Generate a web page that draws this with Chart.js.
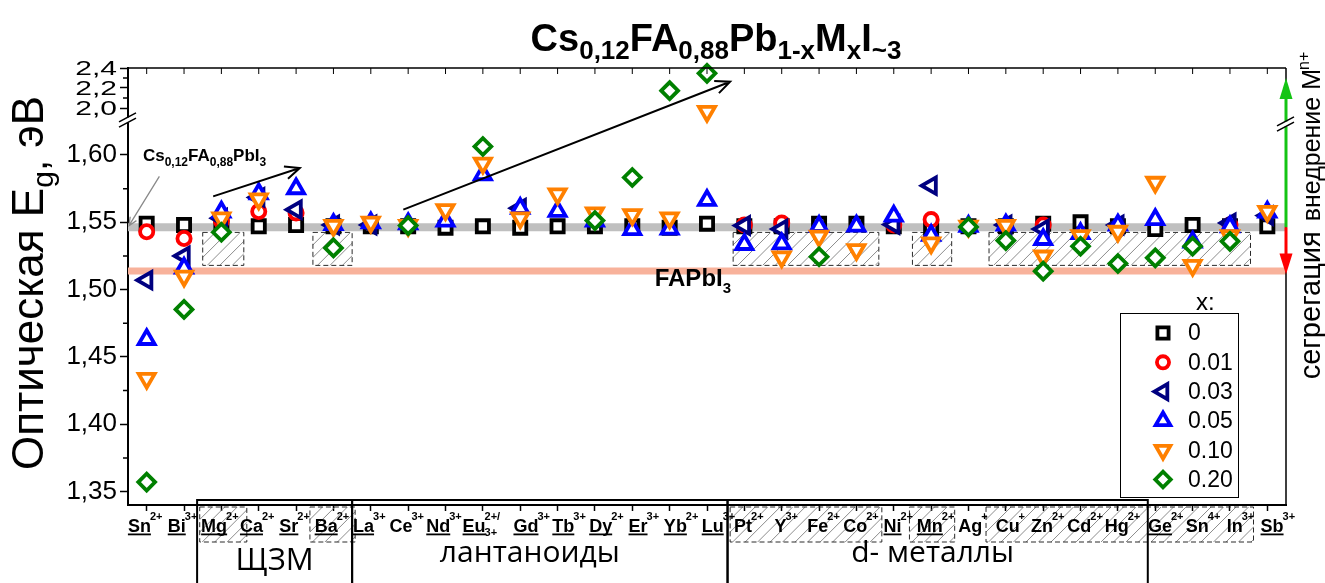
<!DOCTYPE html>
<html>
<head>
<meta charset="utf-8">
<script src="https://cdn.jsdelivr.net/npm/chart.js@4/dist/chart.umd.min.js"></script>
<style>
  html, body { margin: 0; padding: 0; background: #ffffff; }
  #wrap { width: 1325px; height: 583px; position: relative; }
</style>
</head>
<body>
<div id="wrap"><canvas id="chart" width="1325" height="583"></canvas></div>
<script>
// ---- Dopant cations (x axis) ----
const symbols = ['Sn','Bi','Mg','Ca','Sr','Ba','La','Ce','Nd','Eu','Gd','Tb','Dy','Er','Yb','Lu',
                 'Pt','Y','Fe','Co','Ni','Mn','Ag','Cu','Zn','Cd','Hg','Ge','Sn','In','Sb'];
const charges = ['2+','3+','2+','2+','2+','2+','3+','3+','3+','2+/','3+','3+','2+','3+','2+','3+',
                 '2+','3+','2+','2+','2+','2+','+','+','2+','2+','2+','2+','4+','3+','3+'];
const subCharges = ['','','','','','','','','','3+','','','','','','',
                    '','','','','','','','','','','','','','',''];
const underlined = [1,1,1,1,1,1,1,0,1,1,1,1,1,1,1,1, 0,0,0,0,1,1,0,0,0,0,0,1,0,0,1];
const categories = symbols.map((s, i) => s + charges[i] + subCharges[i]);

// ---- Optical band gap Eg (eV) for each dopant fraction x ----
const eg_x0 = [1.549,1.548,1.549,1.547,1.548,1.547,1.547,1.547,1.546,1.547,1.546,1.547,1.547,1.547,1.546,1.549,
               1.547,1.547,1.549,1.549,1.547,1.546,1.547,1.547,1.549,1.550,1.547,1.545,1.548,1.547,1.547];
const eg_x001 = [1.543,1.538,1.551,1.558,1.557,null,null,null,null,null,null,null,null,null,null,null,
                 1.548,1.5495,null,null,1.548,1.552,null,null,1.548,null,null,null,null,1.548,null];
const eg_x003 = [1.507,1.525,1.553,1.5685,1.5594,1.548,1.548,null,null,null,1.5605,null,null,null,null,null,
                 1.5476,1.545,null,null,1.5483,1.5772,null,1.548,1.545,null,1.548,null,null,1.5495,1.555];
const eg_x005 = [1.463,1.516,1.5577,1.5713,1.575,1.5484,1.5496,1.549,1.551,1.5854,1.5604,1.5582,1.551,1.5447,1.545,1.5663,
                 1.5336,1.534,1.547,1.5473,1.5546,1.5404,1.547,1.548,1.5373,1.5416,1.548,1.5521,1.5354,1.5467,1.5576];
const eg_x010 = [1.434,1.510,1.5532,1.5673,null,1.5476,1.550,1.5476,1.5593,1.5939,1.5532,1.571,1.5569,1.5556,1.5532,1.965,
                 null,1.5242,1.5396,1.5297,null,1.5347,1.547,1.5476,1.5249,1.540,1.5433,1.5797,1.518,1.540,1.5581];
const eg_x020 = [1.357,1.4853,1.5426,null,null,1.531,null,1.5476,null,1.6063,null,null,1.5513,1.5833,2.173,2.347,
                 null,null,1.5244,null,null,null,1.5466,1.5364,1.5137,1.5322,1.5194,1.5236,1.5322,1.5359,null];

const seriesLabels = ['0','0.01','0.03','0.05','0.10','0.20'];
const seriesValues = [eg_x0, eg_x001, eg_x003, eg_x005, eg_x010, eg_x020];

// ---- Reference band gaps ----
const refCsFA = 1.5463;     // Cs0,12FA0,88PbI3
const refFAPbI3 = 1.5138;   // FAPbI3

// ---- Broken value axis ----
const lowerRange = [1.34, 1.626];
const upperRange = [1.88, 2.4];
const lowerTicks = [1.35, 1.40, 1.45, 1.50, 1.55, 1.60];
const lowerMinorTicks = [1.375, 1.425, 1.475, 1.525, 1.575];
const upperTicks = [2.0, 2.2, 2.4];
const upperMinorTicks = [2.1, 2.3];

// ---- Groups of cations ----
const hatchSpans = [[1.5, 2.6], [4.45, 5.5], [15.7, 19.6], [20.5, 21.55], [22.55, 29.55]];
const hatchBand = [1.518, 1.5425];
const groups = [
  { name: 'ЩЗМ', from: 1.35, to: 5.5 },
  { name: 'лантаноиды', from: 5.5, to: 15.55 },
  { name: 'd- металлы', from: 15.55, to: 26.8 }
];

// ---- Styling ----
const SANS = "'Liberation Sans', Arial, Helvetica, sans-serif";
const GROUP_FONT = "'Open Sans', 'Noto Sans', sans-serif";
const MARK_LW = 3.8;
const looks = [
  { color: '#000000', style: 'rect',     rot: 0,   r: 8.6 },
  { color: '#ff0000', style: 'circle',   rot: 0,   r: 6.6 },
  { color: '#000080', style: 'triangle', rot: -90, r: 9.4 },
  { color: '#0000ff', style: 'triangle', rot: 0,   r: 9.2 },
  { color: '#ff8000', style: 'triangle', rot: 180, r: 9.2 },
  { color: '#008000', style: 'rectRot',  rot: 0,   r: 8.4 }
];
// horizontal nudge of the cation captions, by first index of a run
const captionNudge = [[0, -1], [10, 12], [16, 5], [27, 11]];
const BREAK_AT = 1.8; // values above this sit on the upper (compressed) segment

// Build datasets: each series is split between the lower and the upper value segment
const datasets = [];
seriesValues.forEach((vals, k) => {
  const look = looks[k];
  [['yLow', v => v <= BREAK_AT], ['yHigh', v => v > BREAK_AT]].forEach(([axis, test]) => {
    const data = vals.map(v => (v !== null && test(v)) ? v : null);
    if (!data.some(v => v !== null)) return;
    datasets.push({
      label: seriesLabels[k],
      data,
      yAxisID: axis,
      showLine: false,
      clip: false,
      order: seriesValues.length - k,
      pointStyle: look.style,
      pointRotation: look.rot,
      pointRadius: look.r,
      pointHoverRadius: look.r,
      pointBorderWidth: MARK_LW,
      pointHoverBorderWidth: MARK_LW,
      pointBorderColor: look.color,
      pointBackgroundColor: '#ffffff',
      borderColor: look.color,
      backgroundColor: '#ffffff'
    });
  });
});

// ---- drawing helpers ----
function font(size, bold, family) {
  return (bold ? 'bold ' : '') + size + 'px ' + (family || SANS);
}
function richText(ctx, parts, x, y, align) {
  let w = 0;
  parts.forEach(p => { ctx.font = font(p.size, p.bold, p.family); p.w = ctx.measureText(p.t).width + (p.dx || 0); w += p.w; });
  let cx = align === 'center' ? x - w / 2 : (align === 'right' ? x - w : x);
  ctx.textAlign = 'left';
  ctx.textBaseline = 'alphabetic';
  parts.forEach(p => {
    ctx.font = font(p.size, p.bold, p.family);
    ctx.fillText(p.t, cx + (p.dx || 0), y + (p.dy || 0));
    cx += p.w;
  });
  return w;
}
function hatchBox(ctx, x0, y0, x1, y1) {
  ctx.save();
  ctx.beginPath();
  ctx.rect(x0, y0, x1 - x0, y1 - y0);
  ctx.clip();
  ctx.strokeStyle = '#777777';
  ctx.lineWidth = 0.85;
  const h = y1 - y0;
  ctx.beginPath();
  for (let k = x0 - h; k < x1 + h; k += 12.5) {
    ctx.moveTo(k, y1);
    ctx.lineTo(k + h, y0);
  }
  ctx.stroke();
  ctx.restore();
  ctx.save();
  ctx.strokeStyle = '#2a2a2a';
  ctx.lineWidth = 1;
  ctx.setLineDash([5, 3]);
  ctx.strokeRect(x0, y0, x1 - x0, y1 - y0);
  ctx.restore();
}
function openArrow(ctx, x0, y0, x1, y1, color, lw, head) {
  ctx.save();
  ctx.strokeStyle = color;
  ctx.lineWidth = lw;
  ctx.beginPath();
  ctx.moveTo(x0, y0);
  ctx.lineTo(x1, y1);
  const a = Math.atan2(y1 - y0, x1 - x0);
  ctx.moveTo(x1 - head * Math.cos(a - 0.42), y1 - head * Math.sin(a - 0.42));
  ctx.lineTo(x1, y1);
  ctx.lineTo(x1 - head * Math.cos(a + 0.42), y1 - head * Math.sin(a + 0.42));
  ctx.stroke();
  ctx.restore();
}
function solidArrow(ctx, x, yFrom, yTo, color) {
  const dir = Math.sign(yTo - yFrom);
  ctx.save();
  ctx.strokeStyle = color;
  ctx.fillStyle = color;
  ctx.lineWidth = 3;
  ctx.beginPath();
  ctx.moveTo(x, yFrom);
  ctx.lineTo(x, yTo - dir * 18);
  ctx.stroke();
  ctx.beginPath();
  ctx.moveTo(x, yTo);
  ctx.lineTo(x - 6.5, yTo - dir * 21);
  ctx.lineTo(x + 6.5, yTo - dir * 21);
  ctx.closePath();
  ctx.fill();
  ctx.restore();
}
function breakMark(ctx, x, y) {
  ctx.save();
  ctx.fillStyle = '#ffffff';
  ctx.fillRect(x - 3, y - 2.5, 6, 5);
  ctx.strokeStyle = '#000000';
  ctx.lineWidth = 1.6;
  ctx.beginPath();
  [-2.6, 2.6].forEach(d => {
    ctx.moveTo(x - 9, y + 4.5 + d);
    ctx.lineTo(x + 8, y - 4.5 + d);
  });
  ctx.stroke();
  ctx.restore();
}
function marker(ctx, look, x, y, scale) {
  ctx.save();
  ctx.strokeStyle = look.color;
  ctx.fillStyle = '#ffffff';
  ctx.lineWidth = MARK_LW;
  if (Chart.helpers && Chart.helpers.drawPoint) {
    Chart.helpers.drawPoint(ctx, { pointStyle: look.style, rotation: look.rot, radius: look.r * scale, borderWidth: MARK_LW }, x, y);
  }
  ctx.restore();
}
function nudgeFor(i) {
  let n = 0;
  captionNudge.forEach(([from, d]) => { if (i >= from) n = d; });
  return n;
}

const titleParts = [['Cs', 0], ['0,12', 1], ['FA', 0], ['0,88', 1], ['Pb', 0], ['1-x', 1], ['M', 0], ['x', 1], ['I', 0], ['~3', 1]];
const hostParts = [['Cs', 0], ['0,12', 1], ['FA', 0], ['0,88', 1], ['PbI', 0], ['3', 1]];

const decor = {
  id: 'decor',
  beforeDatasetsDraw(chart) {
    const { ctx, chartArea: ca, scales: { x, yLow } } = chart;
    hatchSpans.forEach(([a, b]) => {
      hatchBox(ctx, x.getPixelForValue(a), yLow.getPixelForValue(hatchBand[1]),
               x.getPixelForValue(b), yLow.getPixelForValue(hatchBand[0]));
    });
    ctx.save();
    ctx.lineCap = 'butt';
    ctx.strokeStyle = '#bfbfbf';
    ctx.lineWidth = 8;
    let y = yLow.getPixelForValue(refCsFA);
    ctx.beginPath(); ctx.moveTo(ca.left, y); ctx.lineTo(ca.right, y); ctx.stroke();
    ctx.strokeStyle = '#f8b29b';
    ctx.lineWidth = 7;
    y = yLow.getPixelForValue(refFAPbI3);
    ctx.beginPath(); ctx.moveTo(ca.left, y); ctx.lineTo(ca.right, y); ctx.stroke();
    ctx.restore();
  },
  afterDraw(chart) {
    const { ctx, chartArea: ca, scales: { x, yLow, yHigh } } = chart;
    ctx.save();
    ctx.fillStyle = '#000';
    ctx.strokeStyle = '#000';

    // frame: top and right
    ctx.lineWidth = 1.5;
    ctx.beginPath();
    ctx.moveTo(ca.left, ca.top); ctx.lineTo(ca.right, ca.top);
    ctx.moveTo(ca.right, ca.top); ctx.lineTo(ca.right, ca.bottom);
    ctx.stroke();
    ctx.lineWidth = 1;
    ctx.beginPath();
    categories.forEach((c, i) => {
      const px = x.getPixelForValue(i);
      ctx.moveTo(px, ca.top); ctx.lineTo(px, ca.top + 6);
    });
    ctx.stroke();

    // minor ticks on the value axis
    ctx.lineWidth = 1.5;
    ctx.beginPath();
    lowerMinorTicks.forEach(v => { const py = yLow.getPixelForValue(v); ctx.moveTo(ca.left - 5, py); ctx.lineTo(ca.left, py); });
    upperMinorTicks.forEach(v => { const py = yHigh.getPixelForValue(v); ctx.moveTo(ca.left - 5, py); ctx.lineTo(ca.left, py); });
    ctx.stroke();

    // tick labels of the compressed upper segment (tall digits squeezed vertically)
    ctx.fillStyle = '#000';
    upperTicks.forEach(v => {
      ctx.save();
      ctx.translate(ca.left - 11, yHigh.getPixelForValue(v) + 1.5);
      ctx.scale(1, 0.68);
      ctx.font = font(30);
      ctx.textAlign = 'right';
      ctx.textBaseline = 'middle';
      ctx.fillText(v.toFixed(1).replace('.', ','), 0, 0);
      ctx.restore();
    });

    // axis breaks
    const yb = yLow.top;
    breakMark(ctx, ca.left, yb);

    // insertion / segregation arrows on the right edge
    const yRef = yLow.getPixelForValue(refCsFA);
    solidArrow(ctx, ca.right, yRef, yHigh.getPixelForValue(2.30), '#14c414');
    solidArrow(ctx, ca.right, yRef, yLow.getPixelForValue(1.5113), '#ff0000');
    breakMark(ctx, ca.right, yb + 4);

    // trend arrows
    openArrow(ctx, x.getPixelForValue(1.78), yLow.getPixelForValue(1.5693),
              x.getPixelForValue(4.10), yLow.getPixelForValue(1.5903), '#000', 2, 16);
    openArrow(ctx, x.getPixelForValue(6.87), yLow.getPixelForValue(1.5594),
              x.getPixelForValue(15.62), yHigh.getPixelForValue(2.263), '#000', 2, 16);

    // host composition label with pointer to the axis
    ctx.fillStyle = '#000';
    richText(ctx, hostParts.map(([t, s]) => ({ t, size: s ? 12 : 17, bold: true, dy: s ? 5 : 0 })),
             x.getPixelForValue(-0.1), yLow.getPixelForValue(1.5952), 'left');
    openArrow(ctx, x.getPixelForValue(0.34), yLow.getPixelForValue(1.5841),
              ca.left + 1, yLow.getPixelForValue(1.5475), '#8a8a8a', 1.3, 9);

    // FAPbI3 label
    richText(ctx, [{ t: 'FAPbI', size: 24, bold: true }, { t: '3', size: 15, bold: true, dy: 7 }],
             x.getPixelForValue(13.6), yLow.getPixelForValue(1.5026), 'left');

    // title
    richText(ctx, titleParts.map(([t, s]) => ({ t, size: s ? 26 : 38, bold: true, dy: s ? 8 : 0 })),
             716, 51, 'center');

    // value axis title (rotated)
    ctx.save();
    ctx.translate(43, 283);
    ctx.rotate(-Math.PI / 2);
    richText(ctx, [
      { t: 'Оптическая E', size: 44 },
      { t: 'g', size: 30, dy: 10 },
      { t: ',', size: 40, dy: 4 },
      { t: ' эВ', size: 44 }
    ], 0, 0, 'center');
    ctx.restore();

    // right-hand captions
    ctx.save();
    ctx.translate(1320, yRef - 6);
    ctx.rotate(-Math.PI / 2);
    richText(ctx, [{ t: 'внедрение M', size: 25 }, { t: 'n+', size: 16, dy: -11, dx: -1 }], 0, 0, 'left');
    ctx.restore();
    ctx.save();
    ctx.translate(1320, yRef + 4);
    ctx.rotate(-Math.PI / 2);
    richText(ctx, [{ t: 'сегрегация', size: 29 }], 0, 0, 'right');
    ctx.restore();

    // hatched marks under the cation labels
    hatchSpans.forEach(([a, b]) => {
      hatchBox(ctx, x.getPixelForValue(a) - 3, ca.bottom + 2, x.getPixelForValue(b) + 3, ca.bottom + 37);
    });

    // cation labels
    ctx.fillStyle = '#000';
    categories.forEach((c, i) => {
      const cx = x.getPixelForValue(i) + nudgeFor(i);
      ctx.font = font(18, true);
      const ws = ctx.measureText(symbols[i]).width;
      ctx.font = font(11, true);
      const wc = Math.max(ctx.measureText(charges[i]).width, ctx.measureText(subCharges[i]).width);
      const x0 = cx - (ws + wc) / 2;
      const base = ca.bottom + 27;
      ctx.textAlign = 'left';
      ctx.textBaseline = 'alphabetic';
      ctx.font = font(18, true);
      ctx.fillText(symbols[i], x0, base);
      ctx.font = font(11, true);
      ctx.fillText(charges[i], x0 + ws - 1, base - 12);
      if (subCharges[i]) ctx.fillText(subCharges[i], x0 + ws - 1, base + 4);
      if (underlined[i]) ctx.fillRect(x0, base + 1.5, ws, 1.8);
    });

    // group boxes
    ctx.lineWidth = 2;
    ctx.strokeStyle = '#000';
    groups.forEach(g => {
      const gx0 = x.getPixelForValue(g.from), gx1 = x.getPixelForValue(g.to);
      ctx.strokeRect(gx0, ca.bottom - 5, gx1 - gx0, 100);
    });
    ctx.fillStyle = '#000';
    ctx.textAlign = 'center';
    ctx.textBaseline = 'alphabetic';
    ctx.font = font(31, false, GROUP_FONT);
    ctx.fillText(groups[0].name, (x.getPixelForValue(groups[0].from) + x.getPixelForValue(groups[0].to)) / 2, ca.bottom + 65);
    ctx.font = font(30, false, GROUP_FONT);
    ctx.fillText(groups[1].name, (x.getPixelForValue(groups[1].from) + x.getPixelForValue(groups[1].to)) / 2 - 10, ca.bottom + 57);
    ctx.fillText(groups[2].name, (x.getPixelForValue(groups[2].from) + x.getPixelForValue(groups[2].to)) / 2 - 5, ca.bottom + 57);

    // legend
    const lx0 = ca.right - 166, lx1 = ca.right - 48, ly0 = ca.top + 245, ly1 = ca.bottom - 8;
    ctx.fillStyle = '#fff';
    ctx.fillRect(lx0, ly0, lx1 - lx0, ly1 - ly0);
    ctx.lineWidth = 1;
    ctx.strokeStyle = '#000';
    ctx.strokeRect(lx0 + 0.5, ly0 + 0.5, lx1 - lx0, ly1 - ly0);
    ctx.fillStyle = '#000';
    ctx.font = font(24);
    ctx.textAlign = 'left';
    ctx.textBaseline = 'middle';
    ctx.fillText('x:', lx0 + 76, ly0 - 10);
    seriesLabels.forEach((lab, k) => {
      const ry = ly0 + 20 + k * 29.3;
      marker(ctx, looks[k], lx0 + 43, ry, 0.92);
      ctx.fillStyle = '#000';
      ctx.font = font(23);
      ctx.textAlign = 'left';
      ctx.textBaseline = 'middle';
      ctx.fillText(lab, lx0 + 68, ry + 1);
    });
    ctx.restore();
  }
};

const fmt = d => v => v.toFixed(d).replace('.', ',');

new Chart(document.getElementById('chart'), {
  type: 'line',
  data: { labels: categories, datasets },
  options: {
    responsive: false,
    animation: false,
    events: [],
    layout: { padding: { left: 0, right: 39, top: 68, bottom: 0 } },
    plugins: { legend: { display: false }, title: { display: false }, tooltip: { enabled: false } },
    scales: {
      x: {
        type: 'category',
        offset: true,
        position: 'bottom',
        grid: { display: true, drawOnChartArea: false, drawTicks: true, tickLength: 6, tickWidth: 1.5, tickColor: '#000' },
        border: { display: true, color: '#000', width: 2 },
        ticks: { display: false },
        afterFit(s) { s.height = 78; }
      },
      yLow: {
        type: 'linear',
        position: 'left',
        stack: 'eg',
        stackWeight: 385,
        weight: 1,
        min: lowerRange[0],
        max: lowerRange[1],
        afterBuildTicks(s) { s.ticks = lowerTicks.map(v => ({ value: v })); },
        ticks: { autoSkip: false, padding: 3, color: '#000', font: { family: SANS, size: 26 }, callback: fmt(2) },
        grid: { display: true, drawOnChartArea: false, drawTicks: true, tickLength: 8, tickWidth: 1.5, tickColor: '#000' },
        border: { display: true, color: '#000', width: 2 },
        afterFit(s) { s.width = 128; }
      },
      yHigh: {
        type: 'linear',
        position: 'left',
        stack: 'eg',
        stackWeight: 52,
        weight: 2,
        min: upperRange[0],
        max: upperRange[1],
        afterBuildTicks(s) { s.ticks = upperTicks.map(v => ({ value: v })); },
        ticks: { display: false },
        grid: { display: true, drawOnChartArea: false, drawTicks: true, tickLength: 8, tickWidth: 1.5, tickColor: '#000' },
        border: { display: true, color: '#000', width: 2 },
        afterFit(s) { s.width = 128; }
      }
    }
  },
  plugins: [decor]
});
</script>
</body>
</html>
